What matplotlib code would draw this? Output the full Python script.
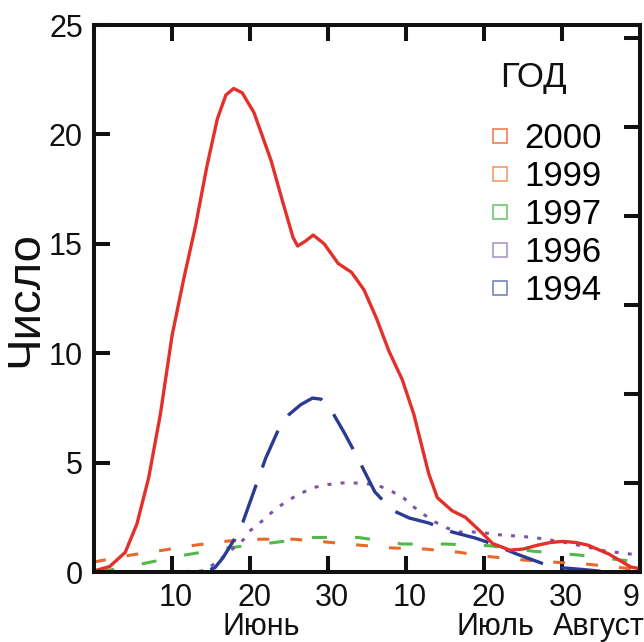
import matplotlib
matplotlib.use('Agg')
import matplotlib.pyplot as plt
from matplotlib.lines import Line2D
from matplotlib.transforms import ScaledTranslation

plt.rcParams['font.family'] = ['Liberation Sans', 'DejaVu Sans']

# ── Data: day counted from 31 May (10 = 10 June, 40 = 10 July, 70 = 9 August)
days_2000 = [0, 2, 4, 5.5, 7, 8.5, 10, 11.5, 13, 14.5, 15.8, 16.9, 17.9, 19, 20.5,
             22.7, 24.2, 25.5, 26.1, 27, 28.1, 29.5, 31.3, 33, 34.6, 36.2, 37.8,
             39.5, 41, 41.7, 42.9, 44, 45.9, 47.6, 49.4, 51.1, 53.3, 55, 56.9,
             58.5, 60.1, 61.7, 63.3, 66, 68.8, 70]
vals_2000 = [0.05, 0.25, 0.9, 2.2, 4.3, 7.2, 10.8, 13.4, 15.8, 18.6, 20.7, 21.8, 22.1,
             21.9, 21.0, 18.8, 16.9, 15.3, 14.9, 15.1, 15.4, 15.0, 14.1, 13.7, 12.9,
             11.6, 10.1, 8.8, 7.2, 6.2, 4.5, 3.4, 2.8, 2.5, 1.9, 1.3, 1.0, 1.05, 1.23,
             1.35, 1.4, 1.35, 1.23, 0.82, 0.23, 0.15]

days_1999 = [0, 4.8, 8.9, 13, 17.3, 21.4, 25.6, 29.8, 34, 38.2, 42.4, 46.6, 50.8,
             55, 59, 63.5, 67.5, 70]
vals_1999 = [0.46, 0.78, 1.0, 1.23, 1.42, 1.5, 1.5, 1.37, 1.23, 1.1, 1.05, 0.91, 0.7,
             0.55, 0.45, 0.35, 0.2, 0.1]

days_1997 = [0.7, 6.1, 11.7, 17.1, 22.7, 28.2, 33.9, 39.5, 45, 50.7, 56.3, 62, 67.5, 70]
vals_1997 = [0.0, 0.37, 0.78, 1.1, 1.33, 1.58, 1.58, 1.28, 1.28, 1.2, 0.95, 0.78, 0.55, 0.45]

days_1996 = [0, 5, 10, 14, 15.2, 16.6, 17.9, 19.1, 20.1, 21.4, 22.7, 24, 25.4, 26.9,
             28.4, 30, 31.7, 33.4, 35.2, 36.8, 38.3, 39.7, 41, 42.4, 43.7, 45.3,
             46.8, 48.6, 50.2, 52, 55.1, 56.9, 60.1, 63.3, 65.5, 68.8, 70]
vals_1996 = [0, 0, 0, 0.05, 0.32, 0.7, 1.1, 1.46, 1.92, 2.29, 2.7, 3.06, 3.38, 3.66,
             3.88, 4.0, 4.07, 4.07, 4.02, 3.9, 3.66, 3.38, 2.97, 2.6, 2.29, 2.0, 1.83,
             1.83, 1.78, 1.7, 1.62, 1.55, 1.37, 1.14, 0.96, 0.82, 0.78]

days_1994 = [0, 5, 10, 14, 15.5, 16.5, 18, 19.1, 20.1, 22, 23.5, 25, 26.5, 28, 29.1,
             30.4, 32.1, 33.6, 36, 38.2, 40.4, 42.9, 45.9, 48.9, 50.7, 54.2, 58.7,
             62.5, 66]
vals_1994 = [0, 0, 0, 0, 0.2, 0.64, 1.5, 2.3, 3.3, 5.2, 6.4, 7.2, 7.65, 7.95, 7.9, 7.4,
             6.35, 5.35, 3.66, 2.83, 2.47, 2.24, 1.83, 1.55, 1.33, 0.82, 0.23, 0.12, 0]

x_ticks = [10, 20, 30, 40, 50, 60, 70]
x_tick_labels = ['10', '20', '30', '10', '20', '30', '9']
y_ticks = [0, 5, 10, 15, 20, 25]
months = ['Июнь', 'Июль', 'Август']
month_pos = [21.4, 51.5, 64.7]

years = ['2000', '1999', '1997', '1996', '1994']
legend_colors = ['#ec7446', '#f2935a', '#5fc267', '#a58fc3', '#6579b6']

# ── Styles ───────────────────────────────────────────────────────────────────
FS_TICK = 22
FS_LEG = 25
FS_YLAB = 34
SPINE_W = 2.9

fig = plt.figure(figsize=(6.44, 6.42), dpi=100)
ax = fig.add_axes([0.146, 0.109, 0.848, 0.852])

ax.plot(days_1999, vals_1999, color='#e8692a', lw=2.2, linestyle=(0, (3.9, 6.9)))
ax.plot(days_1997, vals_1997, color='#52b848', lw=2.2, linestyle=(0, (4.9, 9.2)))
ax.plot(days_1996, vals_1996, color='#7d55a8', lw=2.2, linestyle=(0, (1.3, 3.0)))
ax.plot(days_1994, vals_1994, color='#2b3a92', lw=2.4, linestyle=(0, (12, 5.5)))
ax.plot(days_2000, vals_2000, color='#e3302b', lw=2.4)

ax.set_xlim(0, 70)
ax.set_ylim(0, 25)
ax.set_xticks(x_ticks)
ax.set_xticklabels(x_tick_labels)
ax.set_yticks(y_ticks)
ax.tick_params(axis='both', direction='in', length=11.5, width=SPINE_W,
               labelsize=FS_TICK, pad=8)
ax.tick_params(axis='x', top=True)
xlabs = ax.get_xticklabels()
for lab in xlabs[:-1]:
    lab.set_transform(lab.get_transform() + ScaledTranslation(4 / 100, 0, fig.dpi_scale_trans))
# last label ("9") sits a little left of its tick, as in the original
xlabs[-1].set_transform(xlabs[-1].get_transform() + ScaledTranslation(-9 / 100, 0, fig.dpi_scale_trans))
for s in ax.spines.values():
    s.set_linewidth(SPINE_W)
    s.set_color('#111111')
ax.tick_params(colors='#111111')

# right-hand ticks (separate scale, no labels)
ax2 = ax.twinx()
ax2.set_ylim(0, 6.146)
ax2.set_yticks(range(7))
ax2.set_yticklabels([])
ax2.tick_params(axis='y', direction='in', length=11.5, width=SPINE_W, color='#111111')
for s in ax2.spines.values():
    s.set_visible(False)

for m, p in zip(months, month_pos):
    ax.text(p, -0.1, m, transform=ax.get_xaxis_transform(), ha='center', va='center',
            fontsize=FS_TICK, color='#111111')

fig.text(25 / 644, 0.535, 'Число', rotation=90, ha='center', va='center',
         fontsize=FS_YLAB, color='#111111')

# legend
ax.text(0.744, 0.905, 'ГОД', transform=ax.transAxes, ha='left', va='center',
        fontsize=FS_LEG, color='#111111')
handles = [Line2D([], [], linestyle='none', marker='s', markersize=10.5,
                  markerfacecolor='none', markeredgecolor=c, markeredgewidth=1.1)
           for c in legend_colors]
ax.legend(handles, years, loc='upper left', bbox_to_anchor=(0.725, 0.822),
          frameon=False, fontsize=FS_LEG, handlelength=0.6, handletextpad=0.38,
          labelspacing=0.14, borderpad=0, borderaxespad=0)

fig.savefig('out.png', dpi=100)
